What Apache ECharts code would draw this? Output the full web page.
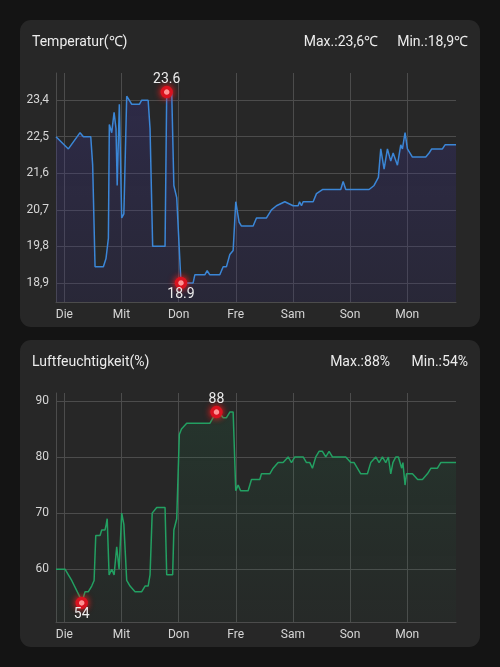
<!DOCTYPE html>
<html><head><meta charset="utf-8">
<script src="https://cdn.jsdelivr.net/npm/echarts@6/dist/echarts.min.js"></script>
<style>
html,body{margin:0;padding:0;background:#141414;width:500px;height:667px;overflow:hidden;}
.card{position:absolute;left:20px;width:460px;height:307px;background:#272727;border-radius:11px;}
#c{position:absolute;left:0;top:0;width:500px;height:667px;}
</style>
</head><body>
<div class="card" style="top:20px"></div>
<div class="card" style="top:340px"></div>
<div id="c"></div>
<script>
// ---- data (hours relative to Tuesday 00:00) ----
const dayLabels = ['Die','Mit','Don','Fre','Sam','Son','Mon'];
const tempHours = [-3.5,1.7,6.6,8.0,11.1,11.9,12.9,16.4,17.5,18.5,18.9,19.9,20.9,21.7,22.2,23.1,24.1,25.0,26.2,28.3,29.7,31.5,32.5,35.2,36.0,37.1,42.3,43.0,45.1,46.0,47.2,49.0,54.1,54.8,59.0,60.0,61.1,65.3,66.7,68.1,69.5,70.9,72.0,73.4,74.4,79.3,80.7,84.9,87.0,89.1,92.6,96.1,98.2,98.8,99.6,100.3,104.5,105.9,108.4,116.1,117.1,118.2,128.0,130.1,131.9,132.9,134.3,135.7,137.1,138.1,139.9,141.3,142.0,143.1,144.1,146.2,151.8,153.2,154.3,158.8,159.9,164.5];
const tempValues = [22.5,22.2,22.6,22.5,22.5,21.8,19.3,19.3,19.5,20.0,22.8,22.6,23.1,22.7,21.3,23.3,20.5,20.6,23.5,23.3,23.3,23.3,23.4,23.4,22.7,19.8,19.8,23.6,23.6,21.3,21.0,18.9,18.9,19.1,19.1,19.2,19.1,19.1,19.3,19.3,19.6,19.7,20.9,20.4,20.3,20.3,20.5,20.5,20.7,20.8,20.9,20.8,20.8,20.9,20.8,20.9,20.9,21.1,21.2,21.2,21.4,21.2,21.2,21.3,21.5,22.2,21.7,22.2,21.9,22.1,21.8,22.3,22.2,22.6,22.2,22.0,22.0,22.1,22.2,22.2,22.3,22.3];
const humHours = [-3.5,0.3,1.7,3.1,6.6,7.3,8.7,10.1,11.5,12.5,13.2,15.0,15.7,17.1,17.6,18.0,18.8,19.9,20.9,22.0,23.0,24.1,25.0,26.2,27.6,29.7,32.5,33.9,35.2,36.0,36.9,38.8,42.3,43.0,45.5,46.0,47.2,48.3,49.2,51.4,61.1,62.5,63.9,64.9,66.7,68.1,69.5,70.9,72.0,73.0,74.0,77.2,78.6,82.1,82.8,86.3,87.7,89.8,91.9,94.0,94.7,95.4,96.8,100.3,101.7,103.1,104.2,105.6,107.0,108.4,109.8,111.2,112.6,118.2,120.3,121.7,124.5,127.3,128.7,130.8,132.2,133.6,135.0,136.1,137.1,138.0,139.2,140.3,141.7,142.2,143.1,143.7,146.2,148.4,150.4,152.5,154.0,156.7,158.1,164.5];
const humValues = [60,60,59,58,55,54,56,56,57,58,66,66,67,67,68,69,59,60,59,64,60,70,68,58,57,56,56,57,57,59,70,71,71,59,59,67,69,84,85,86,86,87,88,88,87,87,88,88,74,75,74,74,76,76,77,77,78,79,79,80,80,79,80,80,79,79,78,80,81,81,80,81,80,80,79,79,77,77,79,80,79,80,79,80,77,79,80,80,78,79,75,77,77,76,76,77,78,78,79,79];
const hourMin = -3.5, hourMax = 164.5;

const TXT = '#ececec', LBL = '#d6d6d6', GRID = '#4c4c4c', FONT = 'Roboto';
const zip = (a, b) => a.map((x, i) => [x, b[i]]);
const comma = (v, d) => v.toFixed(d).replace('.', ',');

function ext(vals) {
  const mn = Math.min(...vals), mx = Math.max(...vals), pad = (mx - mn) * 0.1;
  return {mn, mx, lo: mn - pad, hi: mx + pad};
}
const tE = ext(tempValues), hE = ext(humValues);

function xAxisOf(gi) {
  return {
    type: 'value', gridIndex: gi, min: hourMin, max: hourMax, minInterval: 24, maxInterval: 24,
    axisLine: {show: true, onZero: false, lineStyle: {color: GRID, width: 1}},
    axisTick: {show: false},
    axisLabel: {color: LBL, fontSize: 12, fontFamily: FONT, margin: 7, showMinLabel: false, showMaxLabel: false,
      formatter: v => (Math.abs(v % 24) < 1e-6 ? (dayLabels[Math.round(v / 24)] || '') : '')},
    splitLine: {show: true, showMinLine: false, showMaxLine: false, lineStyle: {color: GRID, width: 1}}
  };
}
function yAxisOf(gi, e, step, dec) {
  return {
    type: 'value', gridIndex: gi, min: e.lo, max: e.hi, minInterval: step, maxInterval: step, scale: true,
    axisLine: {show: true, onZero: false, lineStyle: {color: GRID, width: 1}},
    axisTick: {show: false},
    axisLabel: {color: LBL, fontSize: 12, fontFamily: FONT, margin: 7, showMinLabel: false, showMaxLabel: false,
      formatter: v => comma(v, dec)},
    splitLine: {show: true, showMinLine: false, showMaxLine: false, lineStyle: {color: GRID, width: 1}}
  };
}
const markStyle = {color: '#ffffff', borderColor: '#d9121f', borderWidth: 3.5, shadowBlur: 7, shadowColor: 'rgba(255,30,30,0.9)'};
function marks() {
  return {
    symbol: 'circle', symbolSize: 9, itemStyle: markStyle,
    label: {color: TXT, fontSize: 14, fontFamily: FONT},
    data: [
      {type: 'max', valueDim: 'y', label: {position: 'top', distance: -1}},
      {type: 'min', valueDim: 'y', label: {position: 'bottom', distance: -2}}
    ]
  };
}
const titleStyle = {color: TXT, fontSize: 14, fontWeight: 'normal', fontFamily: FONT};

const chart = echarts.init(document.getElementById('c'), null, {renderer: 'canvas'});
chart.setOption({
  backgroundColor: 'transparent',
  animation: false,
  title: [
    {text: 'Temperatur(℃)', left: 32, top: 35, padding: 0, textStyle: titleStyle},
    {text: 'Max.:' + comma(tE.mx, 1) + '℃', right: 122, top: 35, padding: 0, textStyle: titleStyle},
    {text: 'Min.:' + comma(tE.mn, 1) + '℃', right: 32, top: 35, padding: 0, textStyle: titleStyle},
    {text: 'Luftfeuchtigkeit(%)', left: 32, top: 355, padding: 0, textStyle: titleStyle},
    {text: 'Max.:' + hE.mx + '%', right: 110, top: 355, padding: 0, textStyle: titleStyle},
    {text: 'Min.:' + hE.mn + '%', right: 32, top: 355, padding: 0, textStyle: titleStyle}
  ],
  grid: [
    {left: 56, right: 44, top: 73, height: 229, containLabel: false},
    {left: 56, right: 44, top: 393, height: 229, containLabel: false}
  ],
  xAxis: [xAxisOf(0), xAxisOf(1)],
  yAxis: [yAxisOf(0, tE, 0.9, 1), yAxisOf(1, hE, 10, 0)],
  series: [
    {
      type: 'line', xAxisIndex: 0, yAxisIndex: 0, data: zip(tempHours, tempValues),
      showSymbol: false, symbol: 'none', lineStyle: {color: '#3b86d6', width: 1.5},
      areaStyle: {origin: 'start', color: new echarts.graphic.LinearGradient(0, 0, 0, 1, [
        {offset: 0, color: 'rgba(62,52,150,0.42)'}, {offset: 1, color: 'rgba(50,44,120,0.30)'}])},
      markPoint: marks(), z: 3
    },
    {
      type: 'line', xAxisIndex: 1, yAxisIndex: 1, data: zip(humHours, humValues),
      showSymbol: false, symbol: 'none', lineStyle: {color: '#23a062', width: 1.5},
      areaStyle: {origin: 'start', color: new echarts.graphic.LinearGradient(0, 0, 0, 1, [
        {offset: 0, color: 'rgba(30,130,80,0.22)'}, {offset: 1, color: 'rgba(30,110,70,0.06)'}])},
      markPoint: marks(), z: 3
    }
  ]
});
</script>
</body></html>
